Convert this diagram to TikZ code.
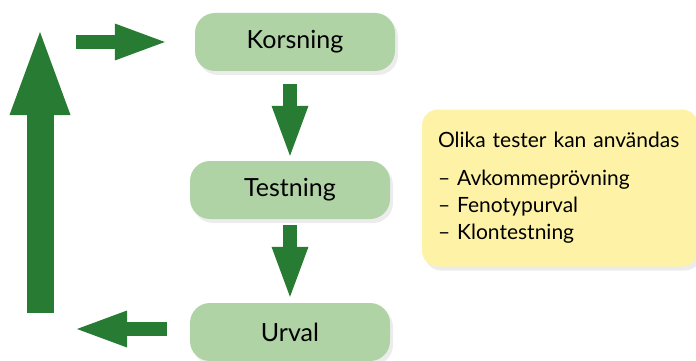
\documentclass[tikz,border=0pt]{standalone}
\usepackage{fontspec}
\setmainfont{Lato}
\usetikzlibrary{arrows.meta,shadows}
\definecolor{boxgreen}{HTML}{B0D3A5}
\definecolor{arrowgreen}{HTML}{277B33}
\definecolor{noteyellow}{HTML}{FDF2A6}

\begin{document}
\begin{tikzpicture}[x = 1pt, y = -1pt,
					stepbox/.style = {
						shape = rectangle,
						rounded corners = 20pt,
						fill = boxgreen,
						minimum width = 200pt,
						minimum height = 58pt,
						font = \fontsize{25}{30}\selectfont,
						drop shadow = {shadow xshift = 3pt, shadow yshift = -4pt, opacity = 0.15},
					},
					notebox/.style = {
						shape = rectangle,
						rounded corners = 16pt,
						fill = noteyellow,
						minimum width = 276pt,
						minimum height = 157pt,
						text width = 244pt,
						inner xsep = 16pt,
						align = left,
						font = \fontsize{21}{27}\selectfont,
						drop shadow = {shadow xshift = 3pt, shadow yshift = -4pt, opacity = 0.15},
					},
					thinarrow/.style = {
						draw = arrowgreen,
						line width = 14pt,
						-{Triangle[length = 50pt, width = 37pt, line width = 0pt]},
					},
					bigarrow/.style = {
						draw = arrowgreen,
						line width = 27pt,
						-{Triangle[length = 83pt, width = 61pt, line width = 0pt]},
					},
			]
				\useasboundingbox (0, 0) rectangle (696, 361);

				\draw (295, 42) node (korsning) [stepbox] {Korsning};
				\draw (290, 190) node (testning) [stepbox] {Testning};
				\draw (290, 332) node (urval) [stepbox] {Urval};
				\draw (560, 188) node (tester) [notebox] {Olika tester kan användas\\[11pt]
					– Avkommeprövning\\
					– Fenotypurval\\
					– Klontestning};

				\coordinate (upper) at (40, 42);
				\coordinate (lower) at (40, 329);

				\draw [thinarrow, shorten <= 13pt, shorten >= 5pt] (testning.north |- korsning.south) -- (testning.north);
				\draw [thinarrow, shorten <= 6pt, shorten >= 6pt] (urval.north |- testning.south) -- (urval.north);
				\draw [thinarrow, shorten <= 23pt, shorten >= 37pt] (lower -| urval.west) -- (lower);
				\draw [bigarrow, shorten <= 16pt, shorten >= -10pt] (lower) -- (upper);
				\draw [thinarrow, shorten <= 36pt, shorten >= 30pt] (upper) -- (upper -| korsning.west);
			\end{tikzpicture}
\end{document}
